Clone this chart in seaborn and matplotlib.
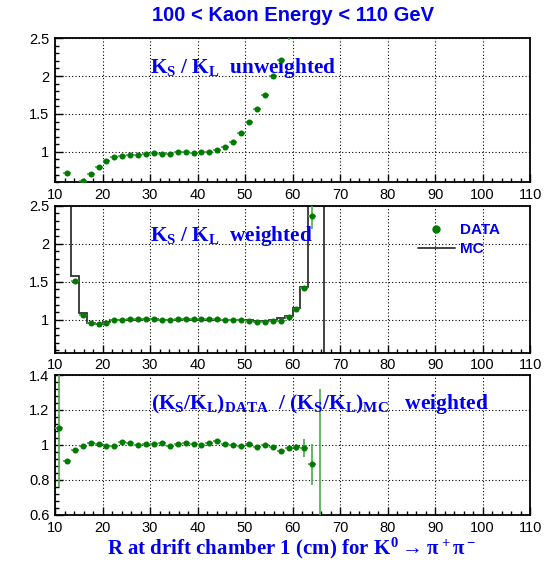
import numpy as np
import seaborn as sns
import matplotlib.pyplot as plt
from matplotlib.lines import Line2D
from matplotlib.ticker import MultipleLocator

# Panel 1: K_S / K_L unweighted
r_unw = [12.50, 15.83, 17.50, 19.17, 20.83, 22.50, 24.17, 25.83, 27.50, 29.17,
         30.83, 32.50, 34.17, 35.83, 37.50, 39.17, 40.83, 42.50, 44.17, 45.83,
         47.50, 49.17, 50.83, 52.50, 54.17, 55.83, 57.50, 59.17]
ratio_unw = [0.725, 0.61, 0.706, 0.80, 0.885, 0.93, 0.94, 0.955, 0.955, 0.97,
             0.98, 0.97, 0.975, 0.995, 1.0, 0.99, 0.995, 1.0, 1.02, 1.06,
             1.13, 1.25, 1.40, 1.57, 1.75, 2.0, 2.21, 2.62]
err_unw = [0.01] * 25 + [0.015, 0.02, 0.15]

# Panel 2: K_S / K_L weighted, data and MC
r_w = [14.17, 15.83, 17.50, 19.17, 20.83, 22.50, 24.17, 25.83, 27.50, 29.17,
       30.83, 32.50, 34.17, 35.83, 37.50, 39.17, 40.83, 42.50, 44.17, 45.83,
       47.50, 49.17, 50.83, 52.50, 54.17, 55.83, 57.50, 59.17, 60.83, 62.50, 64.17]
ratio_w = [1.514, 1.069, 0.963, 0.94, 0.963, 1.0, 1.0, 1.01, 1.01, 1.018,
           1.018, 1.005, 0.995, 1.01, 1.018, 1.01, 1.01, 1.01, 1.01, 1.0,
           0.995, 0.995, 0.99, 0.977, 0.972, 0.986, 0.99, 1.037, 1.142, 1.417, 2.367]
err_w = [0.02] + [0.01] * 26 + [0.012, 0.015, 0.03, 0.17]

mc_edges = [11.67, 13.33, 15.00, 16.67, 18.33, 20.00, 21.67, 23.33, 25.00, 26.67,
            28.33, 30.00, 31.67, 33.33, 35.00, 36.67, 38.33, 40.00, 41.67, 43.33,
            45.00, 46.67, 48.33, 50.00, 51.67, 53.33, 55.00, 56.67, 58.33, 60.00,
            61.67, 63.33, 65.00, 66.67, 68.33]
mc_vals = [3.0, 1.573, 1.092, 0.959, 0.95, 0.975, 1.0, 1.0, 1.005, 1.005,
           1.01, 1.01, 1.005, 1.0, 1.005, 1.01, 1.005, 1.005, 1.005, 1.005,
           1.0, 1.0, 1.0, 0.995, 0.99, 0.99, 1.0, 1.023, 1.046, 1.16,
           1.43, 3.0, 3.0, 0.0]

# Panel 3: data / MC double ratio
r_dr = [10.83, 12.50, 14.17, 15.83, 17.50, 19.17, 20.83, 22.50, 24.17, 25.83,
        27.50, 29.17, 30.83, 32.50, 34.17, 35.83, 37.50, 39.17, 40.83, 42.50,
        44.17, 45.83, 47.50, 49.17, 50.83, 52.50, 54.17, 55.83, 57.50, 59.17,
        60.83, 62.50, 64.17, 65.83]
ratio_dr = [1.098, 0.91, 0.969, 0.992, 1.012, 1.004, 0.996, 0.992, 1.018, 1.014,
            1.0, 1.008, 1.004, 1.01, 0.994, 1.006, 1.01, 1.004, 1.0, 1.01,
            1.02, 1.004, 1.0, 0.992, 1.004, 0.988, 0.998, 0.988, 0.963, 0.982,
            0.988, 0.984, 0.89, 0.5]
err_dr = [0.34, 0.012, 0.008] + [0.007] * 25 + [0.01, 0.012, 0.02, 0.05, 0.117, 0.82]

half_bin = 0.83
green = '#007a00'
bar_green = '#4caa4c'
blue = '#0000ee'

sns.set_style('ticks')
plt.rcParams['font.family'] = ['Liberation Sans', 'DejaVu Sans']
plt.rcParams['mathtext.fontset'] = 'custom'
plt.rcParams['mathtext.rm'] = 'Liberation Serif:bold'
plt.rcParams['mathtext.it'] = 'Liberation Serif:bold'
plt.rcParams['mathtext.bf'] = 'Liberation Serif:bold'

fig = plt.figure(figsize=(5.45, 5.64), dpi=100)
ax1 = fig.add_axes([0.101, 0.677, 0.8716, 0.2553])
ax2 = fig.add_axes([0.101, 0.3747, 0.8716, 0.2606])
ax3 = fig.add_axes([0.101, 0.0869, 0.8716, 0.2482])


def draw_points(ax, x, y, yerr):
    ax.errorbar(x, y, yerr=yerr, xerr=half_bin, fmt='none', ecolor=bar_green,
                elinewidth=1.2, capsize=0, zorder=3)
    sns.scatterplot(x=x, y=y, ax=ax, color=green, s=19, edgecolor=green,
                    linewidth=0, zorder=4)


def style_axis(ax, ylim, ymajor, yminor):
    ax.set_xlim(10, 110)
    ax.set_ylim(*ylim)
    ax.xaxis.set_major_locator(MultipleLocator(10))
    ax.xaxis.set_minor_locator(MultipleLocator(2))
    ax.yaxis.set_major_locator(MultipleLocator(ymajor))
    ax.yaxis.set_minor_locator(MultipleLocator(yminor))
    ax.tick_params(which='both', direction='in', top=False, right=False,
                   labelsize=10.5, colors='black', pad=4)
    ax.tick_params(which='major', length=6, width=1)
    ax.tick_params(which='minor', length=3, width=1)
    ax.grid(True, which='major', linestyle=(0, (1, 2)), color='black', linewidth=0.8)
    for s in ax.spines.values():
        s.set_visible(True)
        s.set_linewidth(1.3)
        s.set_color('black')
    ax.set_xlabel('')
    ax.set_ylabel('')


label_kw = dict(fontsize=15.3, color=blue, family='Liberation Serif',
                fontweight='bold', va='baseline', ha='left')

# panel 1
draw_points(ax1, r_unw, ratio_unw, err_unw)
style_axis(ax1, (0.6, 2.5), 0.5, 0.1)
ax1.set_yticks([1, 1.5, 2, 2.5])
ax1.set_yticklabels(['1', '1.5', '2', '2.5'])
ax1.text(0.2, 0.755, r'$K_S$ / $K_L$  unweighted', transform=ax1.transAxes, **label_kw)

# panel 2
ax2.stairs(mc_vals, mc_edges, baseline=None, color='#333333', linewidth=1.3, zorder=2)
draw_points(ax2, r_w, ratio_w, err_w)
style_axis(ax2, (0.57, 2.5), 0.5, 0.1)
ax2.set_yticks([1, 1.5, 2, 2.5])
ax2.set_yticklabels(['1', '1.5', '2', '2.5'])
ax2.text(0.2, 0.762, r'$K_S$ / $K_L$  weighted', transform=ax2.transAxes, **label_kw)
handles = [Line2D([], [], marker='o', ls='none', color=green, markersize=5),
           Line2D([], [], color='#333333', linewidth=1.3)]
ax2.legend(handles, ['DATA', 'MC'], loc='upper left', bbox_to_anchor=(0.735, 0.975),
           frameon=False, labelcolor=blue, handlelength=2.4, handletextpad=0.35,
           labelspacing=0.35, prop={'family': 'Liberation Sans', 'weight': 'bold', 'size': 11})

# panel 3
draw_points(ax3, r_dr, ratio_dr, err_dr)
style_axis(ax3, (0.6, 1.4), 0.2, 0.04)
ax3.set_yticks([0.6, 0.8, 1.0, 1.2, 1.4])
ax3.set_yticklabels(['0.6', '0.8', '1', '1.2', '1.4'])
ax3.text(0.202, 0.757, r'$(K_S/K_L)_{DATA}$  / $(K_S/K_L)_{MC}$   weighted',
         transform=ax3.transAxes, **dict(label_kw, fontsize=15.5))

for ax in (ax1, ax2, ax3):
    ax.set_xticks(range(10, 111, 10))
    ax.set_xticklabels([str(v) for v in range(10, 111, 10)])

fig.text(0.5385, 0.972, '100 < Kaon Energy < 110 GeV', ha='center', va='center',
         fontsize=14.5, fontweight='bold', color=blue, family='Liberation Sans')
fig.text(0.535, 0.027, r'R at drift chamber 1 (cm) for $K^0 \rightarrow \pi^+\pi^-$',
         ha='center', va='center', fontsize=15, fontweight='bold', color=blue,
         family='Liberation Serif')

fig.savefig('out.png', dpi=100)
plt.close(fig)
